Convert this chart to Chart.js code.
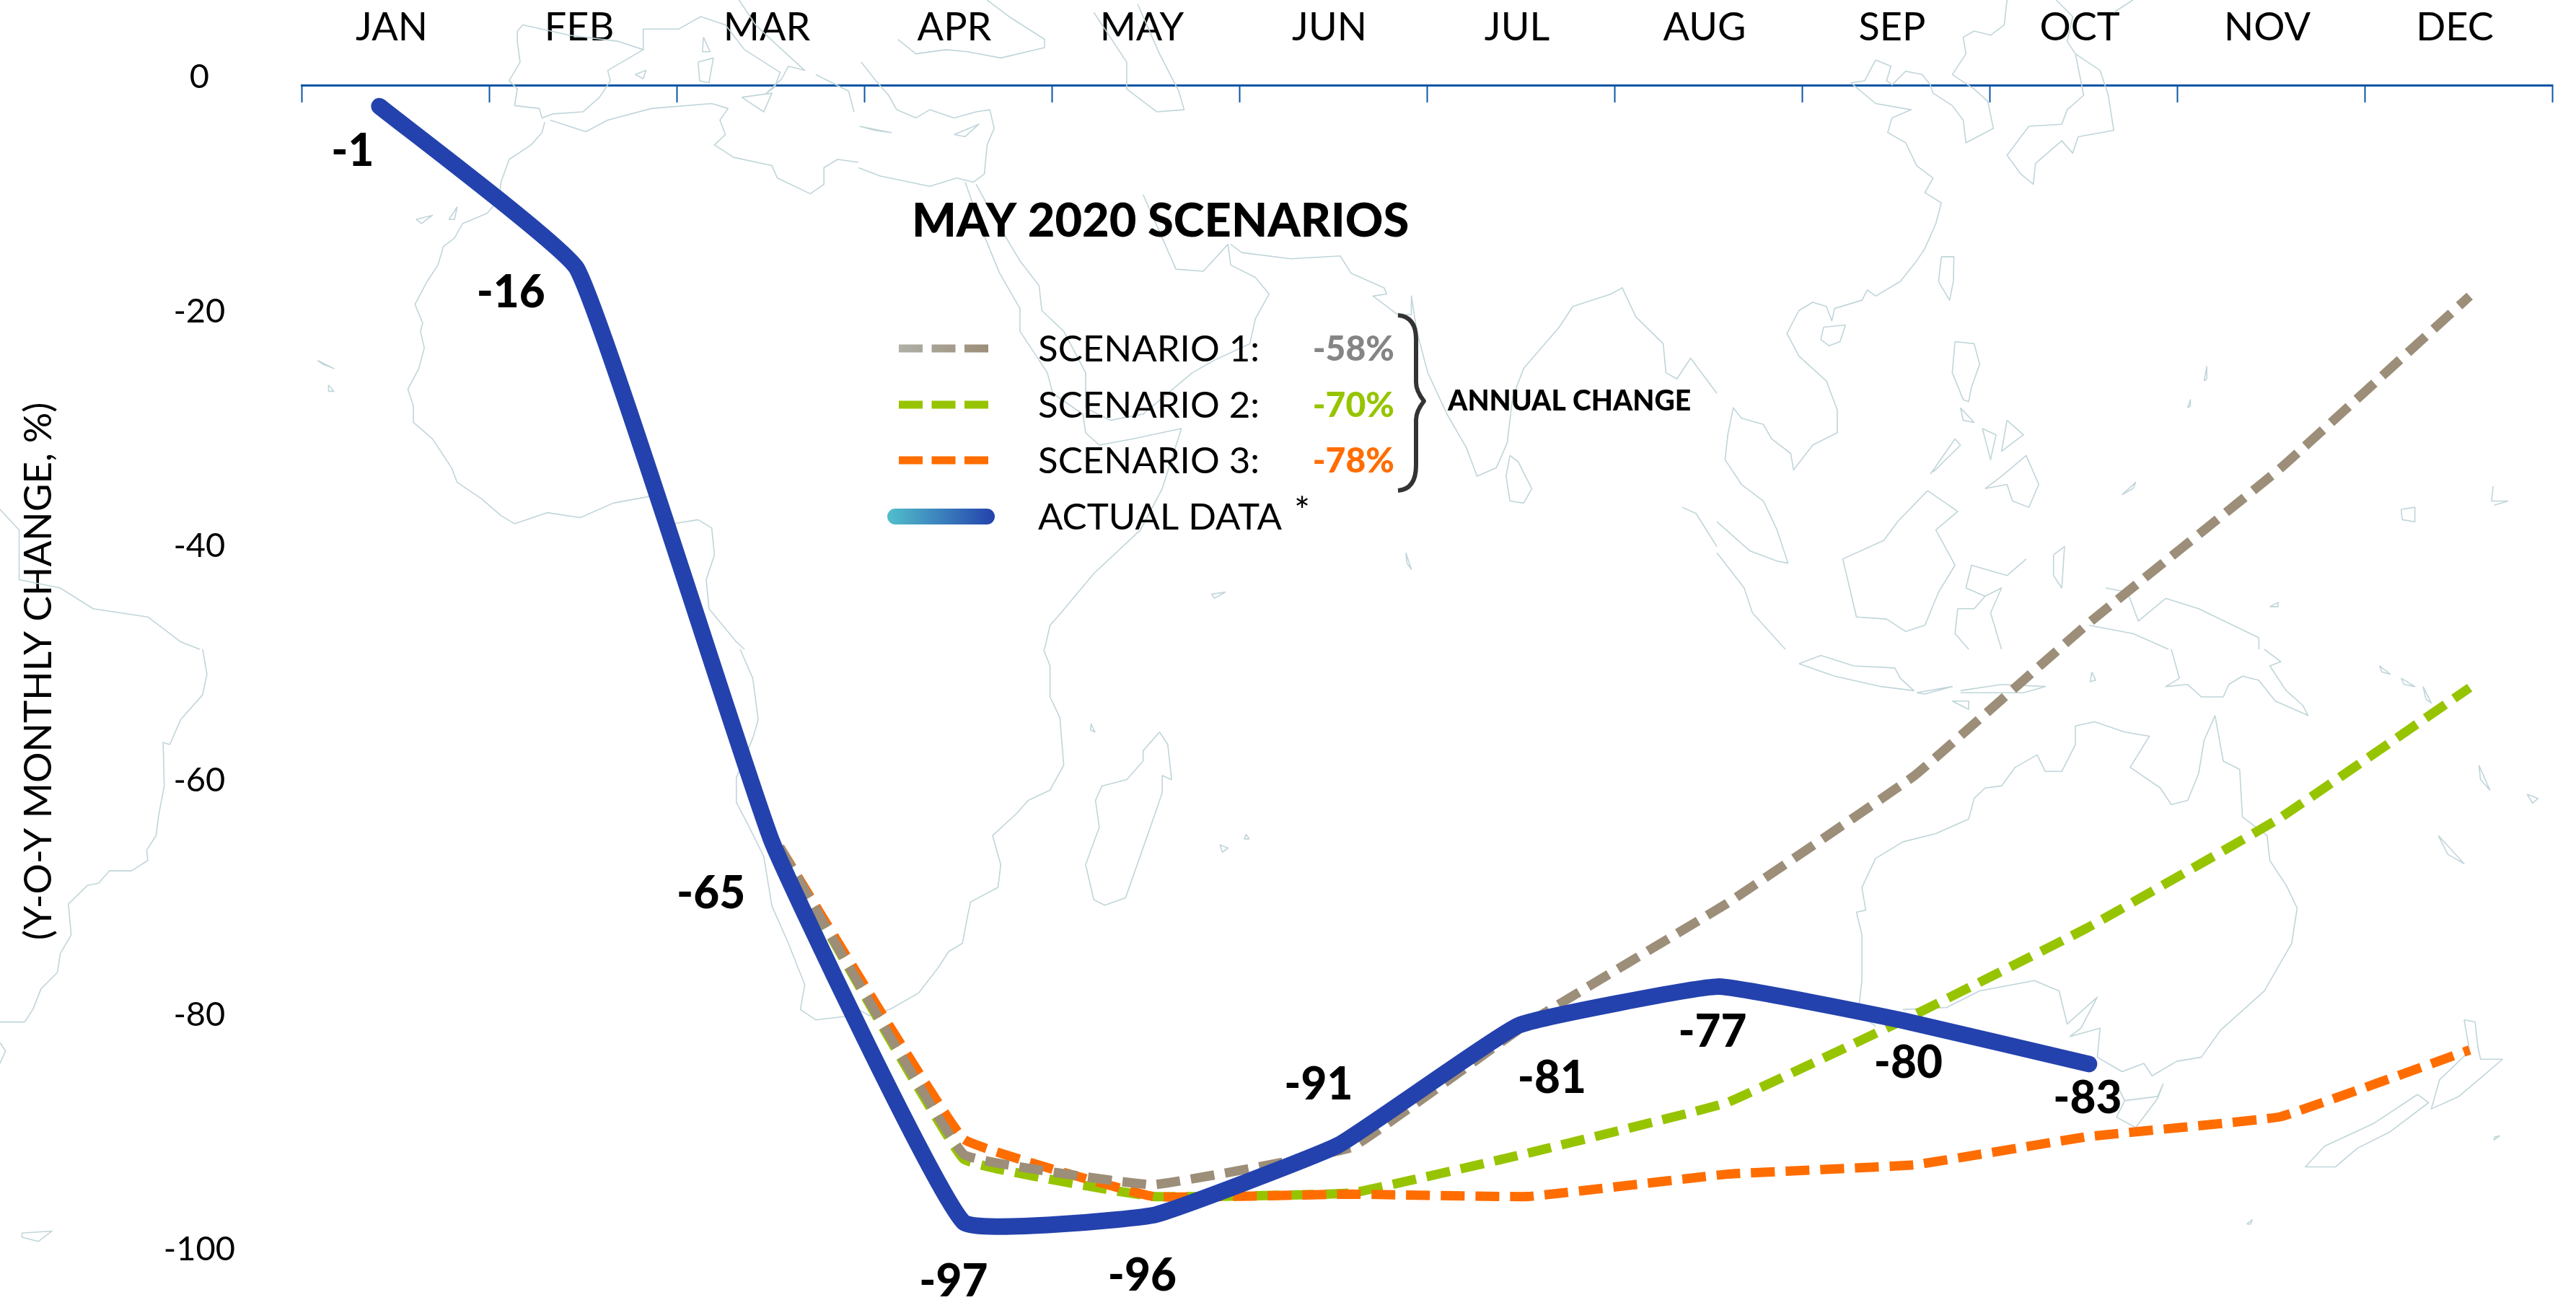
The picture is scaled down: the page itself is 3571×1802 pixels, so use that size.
<!DOCTYPE html>
<html>
<head>
<meta charset="utf-8">
<title>May 2020 scenarios</title>
<script src="https://cdn.jsdelivr.net/npm/chart.js@4"></script>
<style>
html,body{margin:0;padding:0;background:#fff}
#wrap{position:relative;width:3571px;height:1802px}
canvas{display:block}
</style>
</head>
<body>
<div id="wrap"><canvas id="c" width="3571" height="1802"></canvas></div>
<script>
const months = ['JAN','FEB','MAR','APR','MAY','JUN','JUL','AUG','SEP','OCT','NOV','DEC'];
const yTicks = [0,-20,-40,-60,-80,-100];

const actualX = [0.415,1.47,2.51,3.53,4.54,5.53,6.49,7.55,8.54,9.53];
const actualY = [-1.8,-15.7,-64.6,-97.0,-96.4,-90.4,-80.2,-76.9,-79.8,-83.5];
const actualLabels = ['-1','-16','-65','-97','-96','-91','-81','-77','-80','-83'];

const scenarioX = [2.55,3.53,4.54,5.6,6.54,7.6,8.6,9.52,10.55,11.56];
const scenario1 = [-65,-91.2,-93.8,-90.6,-80,-69.8,-58.9,-46,-32.7,-18];
const scenario2 = [-65,-91.6,-94.8,-94.5,-91.1,-86.8,-79.3,-71.9,-62.5,-51.4];
const scenario3 = [-65,-89.9,-94.8,-94.6,-94.8,-92.9,-92.1,-89.7,-88,-82.3];

const seriesNames = ['SCENARIO 1:','SCENARIO 2:','SCENARIO 3:','ACTUAL DATA'];
const annualChange = ['-58%','-70%','-78%'];

const C = {tan:'#9c8e78',green:'#97c400',orange:'#ff6d00',blue:'#2442ad',axis:'#0b56a4',coast:'#c0d5da',grey:'#858585',ink:'#000'};
const FONT = 'Lato, "Open Sans", sans-serif';

const zip = (xs,ys)=>xs.map((x,i)=>({x,y:ys[i]}));

/* ---------- decorative world map (background only, not data) ---------- */
const TILES = {A:[0,0],B:[1190,0],C:[2380,0],D:[0,900],E:[1190,900],F:[2380,900]};
const coast = [
 ['A',[995,295,990,320,970,350,930,385,915,440,912,480,890,515,845,540,830,575,810,595,800,640,780,680,758,735,772,780,768,800,775,840,765,890,745,940,755,980,755,1020,790,1060,825,1130,835,1165,880,1205,915,1245,940,1265,1000,1238,1060,1250,1120,1215,1190,1198,1230,1265,1275,1255,1300,1275,1305,1340,1290,1400,1295,1470,1345,1550,1360,1568]],
 ['D',[1352,0,1375,70,1385,170,1375,215,1345,310,1345,370,1365,420,1395,500,1410,620,1440,710,1470,810,1462,870,1490,895,1555,885]],
 ['E',[0,870,20,885,60,868,110,830,145,770,165,730,190,710,200,640,205,610,255,575,260,520,245,450,290,395,310,365,350,340,375,280,368,165,350,115,350,40,338,0]],
 ['B',[340,1568,350,1510,370,1480,430,1385,515,1280,555,1180,590,1035,500,1060,440,1075,415,1045,410,1000,355,950,345,900,295,800,295,745,258,660,230,570,195,440]],
 ['A',[1005,290,1070,318,1110,290,1190,262,1300,250,1330,262,1315,290,1325,325,1305,350,1340,380,1410,400,1420,430,1480,468,1505,445,1505,405,1530,385,1568,392]],
 ['B',[0,405,40,425,130,450,180,430,210,440,230,420,235,350,248,310,240,265,215,270,175,285,130,265,105,285,70,265,55,230,35,200,5,150]],
 ['B',[215,445,250,530,295,630,330,690,335,750,375,800,415,900,415,985,460,1015,520,1000,610,900,650,870,715,830,725,770,750,710,725,670,680,640,675,590,630,655,580,650,560,590,520,470]],
 ['A',[945,75,955,60,1040,85,1130,100,1175,120,1110,170,1115,195,1095,235,1065,270,1010,275,990,285,985,262,940,255,945,215,930,195,950,150,945,100,945,75]],
 ['A',[1175,120,1175,70,1240,70,1280,40,1325,60,1360,120,1425,175,1415,210,1400,225,1428,190,1440,160,1470,170,1420,110,1380,60,1350,0]],
 ['A',[1275,150,1303,140,1295,200,1278,195,1275,150]],
 ['A',[1285,90,1297,125,1283,125,1285,90]],
 ['A',[1355,235,1410,225,1395,270,1355,235]],
 ['A',[1160,180,1180,170,1175,190,1160,180]],
 ['A',[1490,180,1550,220,1560,270]],
 ['A',[760,530,790,520,770,540,760,530]],
 ['A',[820,530,835,500,830,530,820,530]],
 ['A',[580,870,610,890,590,880,580,870]],
 ['A',[600,930,610,945,600,945,600,930]],
 ['B',[72,95,105,130,160,120,200,125,260,140,340,115,340,95,275,40,235,0]],
 ['B',[430,30,490,150,490,215,545,270,595,265,585,220,550,130,510,10]],
 ['B',[2,305,60,320,30,315,2,305]],
 ['B',[175,325,220,300,195,330,175,325]],
 ['B',[680,590,700,610,790,625,880,618,900,660,960,695,965,710,940,715,985,760,1010,760,1010,715,1020,800,1040,900,1075,1000,1110,1080,1130,1150,1165,1130,1185,1070,1195,960,1215,890,1280,790,1305,740,1375,710,1395,695,1420,765,1470,830,1475,900,1495,915,1520,865,1568,950]],
 ['B',[1190,1100,1205,1115,1230,1180,1215,1215,1190,1210,1183,1150,1190,1100]],
 ['B',[1000,1335,1010,1375,1002,1360,1000,1335]],
 ['B',[645,1435,670,1430,650,1445,645,1435]],
 ['B',[1505,1225,1530,1240,1568,1320]],
 ['E',[550,200,565,230,570,290,572,315,555,305,555,345,545,385,488,600,450,618,430,605,415,520,440,430,433,365,445,330,490,315,520,270,520,245,550,200]],
 ['E',[425,180,432,200,424,195,425,180]],
 ['E',[660,472,675,480,665,490,660,472]],
 ['E',[708,447,714,458,705,458,708,447]],
 ['A',[0,1230,35,1280,35,1400,110,1420,170,1470,270,1490,330,1550,365,1568]],
 ['D',[370,0,378,60,370,110,330,170,310,230,298,225,300,330,290,400,285,450,268,485,270,510,240,535,200,535,180,565,160,570,125,615,130,690,110,735,105,780,75,820,60,870,45,900,0,900]],
 ['D',[40,1410,95,1405,70,1430,40,1420,40,1410]],
 ['D',[0,950,10,970,0,1000]],
 ['C',[530,0,525,60,500,85,470,75,450,90,455,130,430,180,470,215,495,245,505,310,455,345,450,290,430,255,395,225,390,205,375,180,345,172,320,205,310,195,318,160,290,145,270,195,245,200,290,250,355,265,320,285,312,320,345,345,365,400,395,430,380,465,410,490,400,540,380,600,365,630,335,680,290,715,275,700,265,725,215,745,210,775,200,740,175,730,150,750,128,805,150,860,200,920,220,990,220,1045,175,1075,140,1135,135,1095,100,1060,85,1025,45,1010,30,985,20,1050,15,1110,45,1170,85,1210,110,1280,130,1360,110,1355,60,1330,0,1260]],
 ['C',[0,1335,50,1420,65,1480,125,1568]],
 ['C',[655,130,670,230,640,265,630,300,570,305,530,375,555,420,578,445,582,395,630,340,650,370,660,330,725,315,715,230,700,170,655,130]],
 ['C',[620,0,650,40,640,100,655,130]],
 ['C',[760,0,725,30]],
 ['C',[410,620,433,620,432,680,425,725,405,680,410,620]],
 ['C',[195,790,235,785,225,825,205,835,190,820,195,790]],
 ['C',[435,825,470,830,480,880,465,935,460,970,450,965,430,900,435,825]],
 ['C',[490,1180,520,1150,565,1100,588,1170,570,1225,540,1210,530,1170,490,1180]],
 ['C',[390,1145,435,1060,445,1075,395,1140]],
 ['C',[485,1035,510,1050,500,1110,485,1035]],
 ['C',[530,1015,560,1050,520,1090,530,1015]],
 ['C',[445,985,470,1020,450,1015,445,985]],
 ['C',[385,1185,440,1235,400,1280,435,1365,405,1430,380,1510,345,1525,310,1495,255,1490,230,1350,305,1305,330,1260,385,1185]],
 ['C',[565,1350,530,1390,465,1365,455,1420,490,1440,470,1470,440,1470,435,1530,460,1568]],
 ['C',[490,1440,520,1420,500,1480,520,1568]],
 ['C',[615,1340,635,1320,630,1420,615,1390,615,1340]],
 ['C',[710,1420,750,1430,770,1500,820,1445,880,1470,990,1540,990,1568]],
 ['C',[680,1510,760,1530,825,1568]],
 ['C',[740,1195,765,1165,760,1180,740,1195]],
 ['C',[890,920,895,885,895,915,890,920]],
 ['C',[860,985,865,965,865,980,860,985]],
 ['C',[1415,1210,1418,1175,1415,1210,1445,1210,1420,1220]],
 ['C',[1250,1230,1275,1225,1275,1260,1252,1255,1250,1230]],
 ['C',[1010,1465,1025,1455,1025,1465,1010,1465]],
 ['F',[830,0,845,70,820,90,860,85,885,115,925,115,935,85,960,65,990,75,1020,125,1080,160,1070,135,1040,100,1010,40,1030,30,1000,0]],
 ['F',[150,35,190,15,250,40,325,45,335,70,360,100,300,90,215,65,150,35]],
 ['F',[445,100,520,85,600,90,560,105,445,105]],
 ['F',[365,105,430,90,380,108,365,105]],
 ['F',[430,125,460,125,460,145,430,125]],
 ['F',[910,160,890,220,880,300,860,365,830,375,810,335,755,285,790,210,745,200,690,175,655,185,655,230,630,295,600,295,585,255,545,285,520,330,490,335,470,360,460,410,400,445,340,465,290,505,265,575,272,630,255,635,265,690,265,800,258,880,290,910]],
 ['F',[340,870,420,865,480,825,580,800,625,825,640,905,695,840,665,915,645,935,700,915,695,985,740,1020,780,1000,795,1030,840,995,885,985,920,920,1000,825,1050,710,1060,625,1040,570,1010,510,1005,450,960,405,955,290,925,270,910,160]],
 ['F',[730,1050,745,1090,805,1080,815,1050,805,1085,765,1155,730,1130,745,1090]],
 ['F',[1365,895,1385,900,1390,960,1395,990,1435,990,1400,1030,1355,1080,1305,1110,1320,1040,1375,970,1365,895]],
 ['F',[1280,1075,1300,1095,1230,1165,1170,1205,1130,1250,1075,1250,1110,1200,1200,1145,1280,1075]],
 ['F',[1318,450,1365,518,1335,495,1318,450]],
 ['F',[1392,280,1412,340,1395,315,1392,280]],
 ['F',[1480,350,1500,360,1490,372,1480,350]],
 ['F',[1210,40,1230,60,1215,55,1210,40]],
 ['F',[1250,70,1275,90,1255,85,1250,70]],
 ['F',[1290,90,1305,130,1295,120,1290,90]],
 ['F',[1420,1178,1430,1175,1420,1185,1420,1178]],
 ['F',[968,1388,978,1378,975,1388,968,1388]],
 ['F',[685,55,692,75,682,78,685,55]]
];

const mapPlugin = {
  id:'coastlines',
  beforeDatasetsDraw(chart){
    const g = chart.ctx, sx = 1190/1568, sy = 900/1568;
    g.save();
    g.strokeStyle = C.coast; g.lineWidth = 1.6; g.lineJoin='round';
    for(const [t,p] of coast){
      const [ox,oy] = TILES[t];
      g.beginPath();
      for(let i=0;i<p.length;i+=2){
        const x = ox+p[i]*sx, y = oy+p[i+1]*sy;
        i? g.lineTo(x,y): g.moveTo(x,y);
      }
      g.stroke();
    }
    g.restore();
  }
};

/* ---------- value labels + key ---------- */
const labelDx = [-37,-92,-85,-14,-15,-28,46,-7,7,-2];
const labelDy = [63,33,71,83,84,-83,74,63,59,48];

const annotate = {
  id:'annotate',
  afterDatasetsDraw(chart){
    const g = chart.ctx, xs = chart.scales.x, ys = chart.scales.y;
    g.save();
    g.textBaseline='middle';
    g.fillStyle=C.ink; g.textAlign='center';
    g.font='900 62px '+FONT;
    actualLabels.forEach((t,i)=>{
      g.fillText(t, xs.getPixelForValue(actualX[i])+labelDx[i], ys.getPixelForValue(actualY[i])+labelDy[i]);
    });

    g.textAlign='left';
    g.font='900 65px '+FONT;
    g.fillText('MAY 2020 SCENARIOS',1264,307);

    const rows=[483,561,638,716];
    const swatch=[['#b0b0a8',C.tan],[C.green,C.green],[C.orange,C.orange]];
    const pctCol=[C.grey,C.green,C.orange];
    for(let r=0;r<3;r++){
      const gr=g.createLinearGradient(1246,0,1369,0);
      gr.addColorStop(0,swatch[r][0]); gr.addColorStop(1,swatch[r][1]);
      g.fillStyle=gr;
      for(let k=0;k<3;k++) g.fillRect(1246+k*45.5,rows[r]-5.5,33,11);
      g.fillStyle=C.ink; g.textAlign='left';
      g.font='400 51px '+FONT;
      g.fillText(seriesNames[r],1439,rows[r]+2);
      g.fillStyle=pctCol[r]; g.textAlign='right';
      g.font='900 48px '+FONT;
      g.fillText(annualChange[r],1933,rows[r]+2);
    }
    const ag=g.createLinearGradient(1230,0,1379,0);
    ag.addColorStop(0,'#52bfcc'); ag.addColorStop(1,C.blue);
    g.fillStyle=ag;
    g.beginPath(); g.roundRect(1230,705,149,22,11); g.fill();
    g.fillStyle=C.ink; g.textAlign='left';
    g.font='400 51px '+FONT;
    g.fillText(seriesNames[3],1439,rows[3]+2);
    g.font='400 52px '+FONT;
    g.fillText('*',1794,710);

    g.strokeStyle='#333'; g.lineWidth=6; g.lineJoin='round'; g.lineCap='butt';
    g.beginPath();
    g.moveTo(1938,437);
    g.quadraticCurveTo(1963,439,1963,470);
    g.lineTo(1963,530);
    g.quadraticCurveTo(1963,542,1974,556);
    g.quadraticCurveTo(1963,570,1963,582);
    g.lineTo(1963,645);
    g.quadraticCurveTo(1963,678,1938,680);
    g.stroke();

    g.fillStyle=C.ink; g.font='900 39px '+FONT;
    g.fillText('ANNUAL CHANGE',2007,556);
    g.restore();
  }
};

const lineBase = {pointRadius:0,pointHoverRadius:0,fill:false,tension:0.07,borderJoinStyle:'round',clip:false};

new Chart(document.getElementById('c'),{
  type:'line',
  data:{datasets:[
    {...lineBase,label:seriesNames[1],data:zip(scenarioX,scenario2),borderColor:C.green,borderWidth:13,borderDash:[33,15],order:4},
    {...lineBase,label:seriesNames[2],data:zip(scenarioX,scenario3),borderColor:C.orange,borderWidth:13,borderDash:[33,15],order:3},
    {...lineBase,label:seriesNames[0],data:zip(scenarioX,scenario1),borderColor:C.tan,borderWidth:13,borderDash:[33,15],order:2},
    {...lineBase,tension:0.1,label:seriesNames[3],data:zip(actualX,actualY),borderColor:C.blue,borderWidth:23,borderCapStyle:'round',order:1}
  ]},
  plugins:[mapPlugin,annotate],
  options:{
    responsive:false,animation:false,
    parsing:false,normalized:true,
    layout:{padding:{left:0,right:33,top:0,bottom:59}},
    plugins:{legend:{display:false},tooltip:{enabled:false},title:{display:false}},
    scales:{
      x:{
        type:'linear',position:'top',min:0,max:12,
        afterFit(s){s.height=118;s.paddingLeft=0;s.paddingRight=0;},
        border:{display:true,color:C.axis,width:3},
        grid:{drawOnChartArea:false,drawTicks:true,tickLength:-24,tickColor:C.axis,tickWidth:2},
        ticks:{
          stepSize:1,autoSkip:false,maxRotation:0,minRotation:0,
          padding:71,labelOffset:125,color:C.ink,
          font:{family:FONT,size:54,weight:'400'},
          callback:(v)=>months[v]||''
        }
      },
      y:{
        type:'linear',position:'left',min:-100,max:0,
        afterFit(s){s.width=418;s.paddingTop=0;s.paddingBottom=0;},
        afterBuildTicks(s){s.ticks=yTicks.map(v=>({value:v}));},
        border:{display:false},
        grid:{display:false},
        title:{display:true,text:'(Y-O-Y MONTHLY CHANGE, %)',color:C.ink,font:{family:FONT,size:53,weight:'400'},padding:{top:22,bottom:0}},
        ticks:{
          padding:84,labelOffset:-11,crossAlign:'center',color:C.ink,
          font:{family:FONT,size:47,weight:'400'},
          callback:(v)=>String(v)
        }
      }
    }
  }
});
</script>
</body>
</html>
